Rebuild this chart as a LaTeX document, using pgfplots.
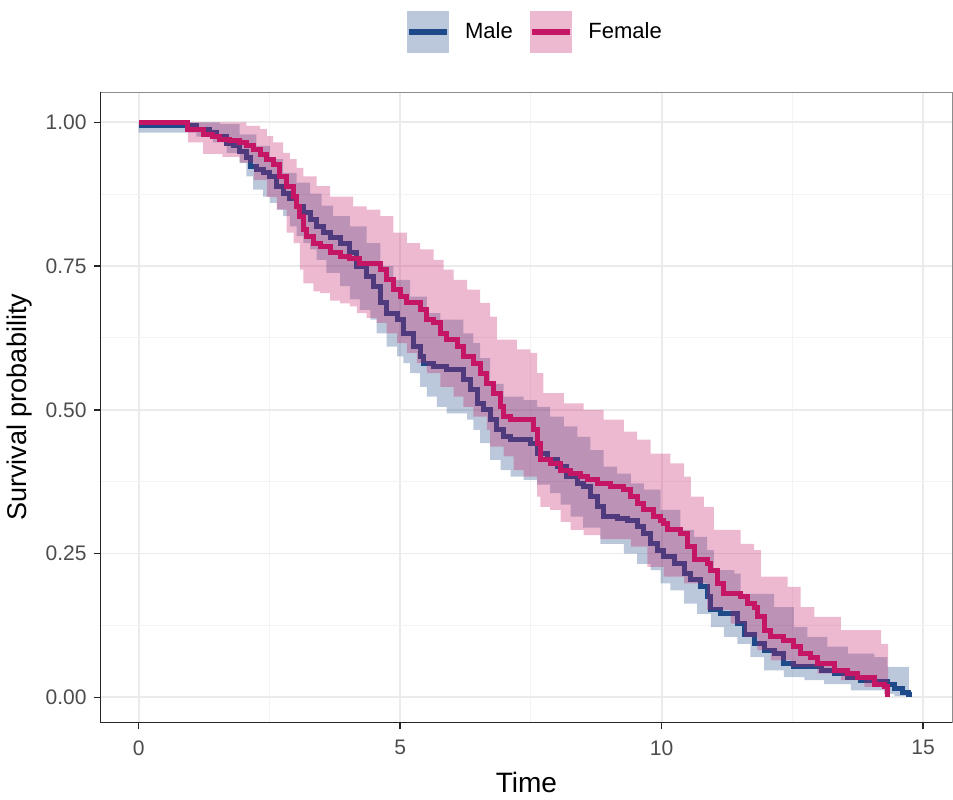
\documentclass[border=0pt]{standalone}
\usepackage{fontspec}
\setmainfont{Liberation Sans}
\usepackage{pgfplots}
\pgfplotsset{compat=1.18}
\usepgfplotslibrary{fillbetween}

\definecolor{maleC}{RGB}{31,74,138}
\definecolor{femaleC}{RGB}{196,22,100}
\definecolor{gridC}{RGB}{235,235,235}

\begin{document}
\begin{tikzpicture}
\begin{axis}[
  set layers,
  scale only axis, width=425pt, height=314.5pt,
  xmin=-0.728, xmax=15.556, ymin=-0.0436, ymax=1.0523,
  xtick={0,5,10,15}, minor xtick={2.5,7.5,12.5},
  ytick={0,0.25,0.5,0.75,1}, minor ytick={0.125,0.375,0.625,0.875},
  yticklabel style={/pgf/number format/fixed, /pgf/number format/fixed zerofill, /pgf/number format/precision=2},
  xticklabel style={yshift=-2pt},
  /pgf/number format/assume math mode=true,
  ticklabel style={font=\fontsize{10.5}{12}\selectfont, text=black!70},
  grid=both,
  major grid style={gridC, line width=0.9pt},
  minor grid style={gridC!60!white, line width=0.5pt},
  tickpos=left, tick align=outside, major tick length=3.5pt, minor tick length=0pt,
  tick style={black!85, line width=0.7pt},
  axis line style={black!45, line width=0.6pt},
  xlabel={Time}, ylabel={Survival probability},
  xlabel style={font=\fontsize{14}{16}\selectfont, yshift=-1.5pt},
  ylabel style={font=\fontsize{13.5}{16}\selectfont},
  legend style={at={(0.511,1.0956)}, anchor=center, draw=none, fill=none,
    inner ysep=5.5pt,
    legend columns=-1, font=\fontsize{11}{13}\selectfont,
    /tikz/every even column/.append style={column sep=6pt}},
  after end axis/.code={
    \draw[black!85, line width=0.7pt] (rel axis cs:0,1) -- (rel axis cs:0,0) -- (rel axis cs:1,0);
  },
]

\addlegendimage{legend image code/.code={
  \fill[maleC, fill opacity=0.3, draw=none] (0pt,-10.5pt) rectangle (21pt,10.5pt);
  \draw[maleC, line width=3pt] (1pt,0pt) -- (20pt,0pt);
  \path (27pt,0pt);}}
\addlegendentry{Male}
\addlegendimage{legend image code/.code={
  \fill[femaleC, fill opacity=0.3, draw=none] (0pt,-10.5pt) rectangle (21pt,10.5pt);
  \draw[femaleC, line width=3pt] (1pt,0pt) -- (20pt,0pt);
  \path (27pt,0pt);}}
\addlegendentry{Female}

% male confidence band
\addplot[const plot, draw=none, name path=mu, forget plot] coordinates {
(0,1.0) (1.55,0.997) (1.93,0.979) (2.25,0.959) (2.51,0.936) (2.76,0.912) (3.02,0.895)
(3.28,0.876) (3.5,0.855) (3.72,0.837) (4.04,0.819) (4.36,0.790) (4.62,0.750) (4.87,0.726)
(5.19,0.697) (5.51,0.668) (5.77,0.657) (6.21,0.633) (6.40,0.616) (6.53,0.590) (6.72,0.545)
(6.98,0.523) (7.36,0.517) (7.62,0.505) (7.87,0.488) (8.13,0.471) (8.39,0.453) (8.64,0.430)
(8.89,0.401) (9.15,0.389) (9.41,0.372) (9.66,0.361) (9.98,0.326) (10.36,0.291) (10.62,0.279)
(10.87,0.256) (11.0,0.221) (11.39,0.215) (11.51,0.180) (12.15,0.157) (12.53,0.122)
(12.79,0.105) (13.17,0.088) (13.56,0.076) (14.07,0.070) (14.32,0.053) (14.73,0.053)
};
\addplot[const plot, draw=none, name path=ml, forget plot] coordinates {
(0,0.982) (1.10,0.975) (1.42,0.965) (1.68,0.947) (1.93,0.929) (2.06,0.906) (2.19,0.883)
(2.38,0.871) (2.51,0.860) (2.64,0.848) (2.76,0.837) (2.89,0.819) (3.02,0.802) (3.15,0.790)
(3.28,0.779) (3.40,0.761) (3.59,0.738) (3.85,0.715) (4.04,0.692) (4.23,0.674) (4.43,0.657)
(4.55,0.633) (4.74,0.610) (4.94,0.593) (5.06,0.581) (5.19,0.564) (5.38,0.540) (5.51,0.523)
(5.70,0.505) (5.89,0.494) (6.28,0.483) (6.40,0.465) (6.53,0.442) (6.72,0.413) (6.92,0.395)
(7.11,0.384) (7.36,0.378) (7.62,0.370) (7.87,0.355) (8.07,0.335) (8.26,0.314) (8.50,0.295)
(8.83,0.267) (9.28,0.250) (9.53,0.232) (9.79,0.221) (9.98,0.198) (10.17,0.186) (10.43,0.163)
(10.68,0.145) (10.94,0.122) (11.19,0.105) (11.45,0.093) (11.70,0.070) (11.96,0.047)
(12.34,0.035) (12.73,0.030) (13.11,0.023) (13.62,0.012) (14.26,0.006) (14.45,0.002) (14.73,0.002)
};
\addplot[fill=maleC, fill opacity=0.3, draw=none, forget plot] fill between[of=mu and ml];

% male survival curve
\addplot[const plot, maleC, line width=2.5pt, forget plot, on layer=pre main] coordinates {
(0,0.994) (1.10,0.988) (1.36,0.982) (1.49,0.976) (1.68,0.964) (1.81,0.959) (1.93,0.950)
(2.06,0.938) (2.13,0.924) (2.25,0.918) (2.38,0.912) (2.51,0.906) (2.64,0.889) (2.76,0.877)
(2.89,0.868) (3.02,0.854) (3.15,0.843) (3.28,0.831) (3.40,0.819) (3.53,0.808) (3.66,0.799)
(3.85,0.790) (4.04,0.773) (4.17,0.750) (4.36,0.732) (4.49,0.715) (4.62,0.686) (4.74,0.668)
(4.94,0.657) (5.06,0.633) (5.26,0.610) (5.38,0.593) (5.45,0.581) (5.64,0.575) (5.89,0.570)
(6.21,0.552) (6.34,0.535) (6.47,0.511) (6.60,0.500) (6.72,0.483) (6.85,0.465) (6.98,0.453)
(7.11,0.448) (7.49,0.442) (7.62,0.424) (7.81,0.413) (8.00,0.401) (8.19,0.384) (8.39,0.372)
(8.51,0.366) (8.64,0.349) (8.77,0.331) (8.89,0.314) (9.15,0.311) (9.34,0.308) (9.53,0.297)
(9.66,0.285) (9.79,0.267) (9.92,0.256) (10.04,0.244) (10.24,0.232) (10.43,0.215) (10.56,0.204)
(10.75,0.192) (10.87,0.175) (10.94,0.152) (11.13,0.146) (11.45,0.128) (11.58,0.110)
(11.77,0.093) (11.96,0.082) (12.15,0.076) (12.34,0.058) (12.53,0.053) (13.05,0.047)
(13.30,0.041) (13.56,0.035) (13.81,0.030) (14.07,0.027) (14.32,0.023) (14.45,0.015)
(14.60,0.008) (14.73,0.005) (14.78,0.005)
};

% female confidence band
\addplot[const plot, draw=none, name path=fu, forget plot] coordinates {
(0,1.0) (2.06,0.994) (2.32,0.988) (2.45,0.976) (2.57,0.965) (2.76,0.947) (2.89,0.936)
(3.02,0.921) (3.15,0.906) (3.40,0.889) (3.66,0.871) (4.10,0.854) (4.36,0.848) (4.62,0.837)
(4.87,0.808) (5.13,0.790) (5.38,0.779) (5.64,0.761) (5.83,0.744) (6.02,0.726) (6.28,0.709)
(6.53,0.686) (6.72,0.662) (6.85,0.622) (7.23,0.605) (7.49,0.599) (7.62,0.564) (7.74,0.529)
(8.13,0.511) (8.51,0.500) (8.89,0.483) (9.28,0.462) (9.53,0.448) (9.79,0.424) (10.17,0.407)
(10.43,0.384) (10.56,0.349) (10.81,0.331) (11.00,0.291) (11.51,0.267) (11.77,0.256)
(11.90,0.210) (12.41,0.192) (12.66,0.157) (12.92,0.140) (13.43,0.117) (14.20,0.093) (14.33,0.093)
};
\addplot[const plot, draw=none, name path=fl, forget plot] coordinates {
(0,1.0) (0.94,0.965) (1.23,0.945) (1.60,0.940) (1.93,0.930) (2.20,0.900) (2.45,0.870)
(2.64,0.848) (2.83,0.808) (2.96,0.790) (3.08,0.744) (3.15,0.720) (3.34,0.706) (3.47,0.703)
(3.66,0.690) (3.85,0.685) (4.04,0.680) (4.17,0.668) (4.36,0.660) (4.55,0.651) (4.74,0.633)
(4.94,0.616) (5.13,0.599) (5.32,0.581) (5.51,0.564) (5.77,0.540) (6.02,0.523) (6.21,0.505)
(6.40,0.488) (6.66,0.465) (6.72,0.436) (6.98,0.419) (7.17,0.395) (7.36,0.384) (7.62,0.349)
(7.68,0.331) (7.87,0.326) (8.07,0.305) (8.26,0.291) (8.51,0.282) (8.83,0.275) (9.41,0.262)
(9.73,0.227) (10.04,0.210) (10.43,0.198) (10.87,0.152) (11.32,0.128) (11.58,0.105)
(11.83,0.082) (12.09,0.064) (12.47,0.053) (12.98,0.041) (13.43,0.030) (13.88,0.018)
(14.26,0.006) (14.33,0.006)
};
\addplot[fill=femaleC, fill opacity=0.3, draw=none, forget plot] fill between[of=fu and fl];

% female survival curve
\addplot[const plot, femaleC, line width=2.5pt, forget plot] coordinates {
(0,1.0) (0.94,0.988) (1.23,0.979) (1.42,0.976) (1.55,0.971) (1.74,0.968) (1.93,0.965)
(2.06,0.959) (2.19,0.953) (2.32,0.944) (2.45,0.936) (2.57,0.927) (2.70,0.906) (2.83,0.889)
(2.96,0.871) (3.02,0.854) (3.08,0.837) (3.15,0.814) (3.21,0.802) (3.34,0.790) (3.47,0.784)
(3.66,0.773) (3.85,0.767) (4.04,0.764) (4.23,0.755) (4.62,0.744) (4.74,0.726) (4.87,0.709)
(5.00,0.697) (5.13,0.686) (5.38,0.674) (5.51,0.657) (5.64,0.651) (5.77,0.633) (5.89,0.622)
(6.09,0.610) (6.21,0.593) (6.40,0.581) (6.53,0.564) (6.66,0.546) (6.79,0.529) (6.92,0.505)
(6.98,0.488) (7.11,0.483) (7.55,0.465) (7.62,0.442) (7.68,0.413) (7.87,0.407) (8.07,0.395)
(8.26,0.389) (8.45,0.384) (8.58,0.378) (8.77,0.372) (9.02,0.366) (9.28,0.361) (9.41,0.349)
(9.53,0.337) (9.66,0.326) (9.85,0.314) (9.98,0.308) (10.04,0.302) (10.11,0.291) (10.36,0.285)
(10.49,0.262) (10.62,0.239) (10.87,0.232) (10.94,0.221) (11.07,0.198) (11.19,0.180)
(11.51,0.175) (11.64,0.163) (11.77,0.157) (11.83,0.140) (11.96,0.117) (12.09,0.105)
(12.34,0.099) (12.53,0.088) (12.66,0.076) (12.85,0.070) (12.98,0.058) (13.30,0.047)
(13.56,0.041) (13.75,0.035) (14.07,0.023) (14.26,0.018) (14.32,0.004) (14.36,0.004)
};
\end{axis}
\end{tikzpicture}
\end{document}
